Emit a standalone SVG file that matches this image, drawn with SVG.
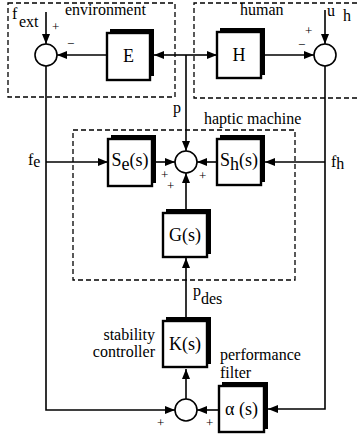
<svg xmlns="http://www.w3.org/2000/svg" width="357" height="438" viewBox="0 0 357 438" font-family="'Liberation Serif','Times New Roman',serif">
<style>
text{font-family:"Liberation Serif","Times New Roman",serif;fill:#000}
.lbl{font-size:16px}
.box{font-size:18px}
.sg{font-size:13px}
.dash{fill:none;stroke:#000;stroke-width:1.3;stroke-dasharray:5,3}
.ln{fill:none;stroke:#000;stroke-width:1.6}
.sh{fill:#000}
.bx{fill:#fff;stroke:#000;stroke-width:2.4}
.sum{fill:#fff;stroke:#000;stroke-width:1.6}
</style>
<defs>
<marker id="ar" viewBox="0 0 10 8" refX="10" refY="4" markerWidth="10" markerHeight="8" markerUnits="userSpaceOnUse" orient="auto">
<path d="M0,0 L10,4 L0,8 z" fill="#000"/>
</marker>
</defs>
<rect fill="#fff" width="357" height="438"/>
<g id="regions">
<rect class="dash" x="8" y="3" width="167" height="94"/>
<text class="lbl" x="65" y="15">environment</text>
<path class="dash" d="M357,3 H194 V98 H357"/>
<text class="lbl" x="240" y="15">human</text>
<rect class="dash" x="73" y="130" width="222" height="150"/>
<text class="lbl" x="204" y="124">haptic machine</text>
</g>
<g id="connectors">
<path class="ln" d="M46,12 V44" marker-end="url(#ar)"/>
<path class="ln" d="M107,55 H57" marker-end="url(#ar)"/>
<path class="ln" d="M46,66 V410 H175" marker-end="url(#ar)"/>
<path class="ln" d="M46,162 H108" marker-end="url(#ar)"/>
<path class="ln" d="M155,162 H175" marker-end="url(#ar)"/>
<path class="ln" d="M186,55 V151" marker-end="url(#ar)"/>
<path class="ln" d="M186,55 H154" marker-end="url(#ar)"/>
<path class="ln" d="M186,55 H217" marker-end="url(#ar)"/>
<path class="ln" d="M265,55 H314" marker-end="url(#ar)"/>
<path class="ln" d="M325,10 V44" marker-end="url(#ar)"/>
<path class="ln" d="M325,66 V409 H268" marker-end="url(#ar)"/>
<path class="ln" d="M325,162 H265" marker-end="url(#ar)"/>
<path class="ln" d="M217,162 H197" marker-end="url(#ar)"/>
<path class="ln" d="M186,210 V173" marker-end="url(#ar)"/>
<path class="ln" d="M186,318 V258" marker-end="url(#ar)"/>
<path class="ln" d="M186,399 V369" marker-end="url(#ar)"/>
<path class="ln" d="M219,410 H197" marker-end="url(#ar)"/>
</g>
<g id="sum_env"><circle class="sum" cx="46" cy="55" r="11"/></g>
<g id="sum_human"><circle class="sum" cx="325" cy="55" r="11"/></g>
<g id="sum_haptic"><circle class="sum" cx="186" cy="162" r="11"/></g>
<g id="sum_bottom"><circle class="sum" cx="186" cy="410" r="11"/></g>
<g id="E">
<rect class="sh" x="110" y="29" width="44" height="47"/>
<rect class="bx" x="107" y="33" width="43" height="47"/>
<text class="box" x="128.5" y="62" text-anchor="middle">E</text>
</g>
<g id="H">
<rect class="sh" x="220" y="28" width="45" height="47"/>
<rect class="bx" x="217" y="32" width="44" height="46"/>
<text class="box" x="239" y="61" text-anchor="middle">H</text>
</g>
<g id="Se">
<rect class="sh" x="111" y="135" width="45" height="48"/>
<rect class="bx" x="108" y="139" width="44" height="47"/>
<text class="box" x="130" y="166" text-anchor="middle">S<tspan dy="4">e</tspan><tspan dy="-4">(s)</tspan></text>
</g>
<g id="Sh">
<rect class="sh" x="220" y="135" width="45" height="47"/>
<rect class="bx" x="217" y="139" width="44" height="46"/>
<text class="box" x="239" y="166" text-anchor="middle">S<tspan dy="4">h</tspan><tspan dy="-4">(s)</tspan></text>
</g>
<g id="G">
<rect class="sh" x="166" y="209" width="45" height="45"/>
<rect class="bx" x="163" y="213" width="44" height="44"/>
<text class="box" x="185" y="241" text-anchor="middle">G(s)</text>
</g>
<g id="K">
<rect class="sh" x="166" y="317" width="45" height="47"/>
<rect class="bx" x="163" y="321" width="44" height="46"/>
<text class="box" x="185" y="350" text-anchor="middle">K(s)</text>
</g>
<g id="alpha">
<rect class="sh" x="222" y="382" width="46" height="47"/>
<rect class="bx" x="219" y="386" width="45" height="46"/>
<text class="box" x="241.5" y="415" text-anchor="middle">α (s)</text>
</g>
<g id="labels">
<text class="lbl" x="12" y="19" font-size="18">f</text>
<text class="lbl" x="19" y="27">ext</text>
<text class="sg" x="52" y="31">+</text>
<text class="sg" x="67" y="48">−</text>
<text class="sg" x="305" y="35">+</text>
<text class="sg" x="298" y="49">−</text>
<text class="lbl" x="327" y="16">u</text>
<text class="lbl" x="343" y="21">h</text>
<text class="lbl" x="28" y="165">f<tspan dy="2">e</tspan></text>
<text class="lbl" x="331" y="167">f<tspan dy="2">h</tspan></text>
<text class="lbl" x="173" y="113">p</text>
<text class="sg" x="161" y="179">+</text>
<text class="sg" x="167" y="190">+</text>
<text class="sg" x="199" y="180">+</text>
<text class="lbl" x="193" y="296">p</text>
<text class="lbl" x="201" y="304">des</text>
<text class="lbl" x="155" y="340" text-anchor="end">stability</text>
<text class="lbl" x="155" y="357" text-anchor="end">controller</text>
<text class="lbl" x="220" y="360">performance</text>
<text class="lbl" x="220" y="378">filter</text>
<text class="sg" x="157" y="427">+</text>
<text class="sg" x="206" y="427">+</text>
</g>
</svg>
